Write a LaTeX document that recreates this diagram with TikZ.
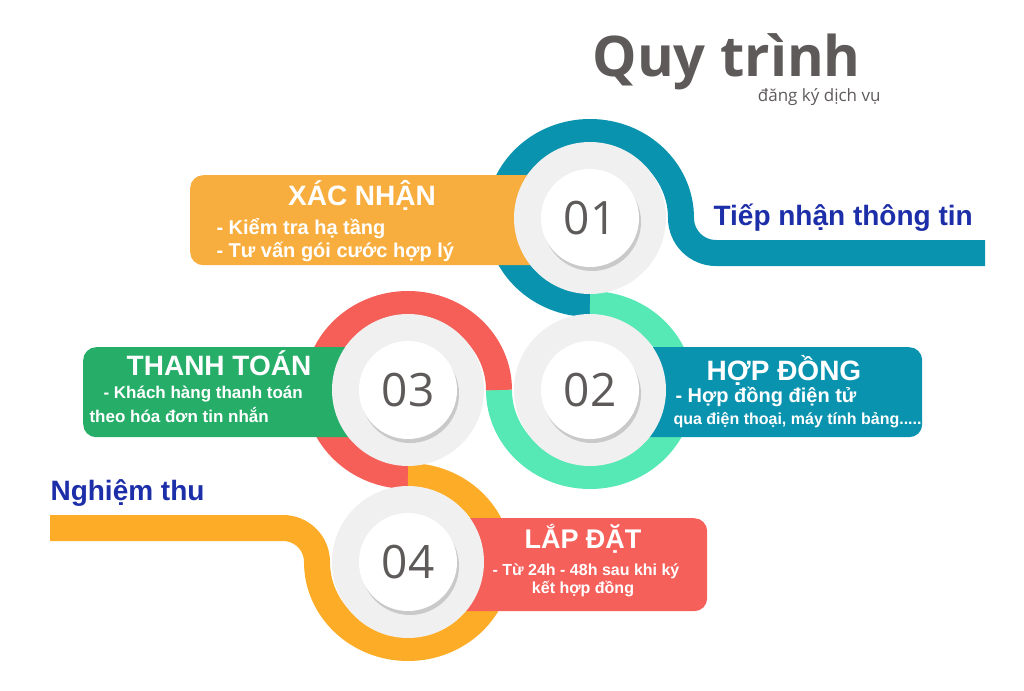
\documentclass[tikz,border=0pt]{standalone}
\usepackage{fontspec}
\setmainfont{Liberation Sans}
\newfontfamily\opensans{Open Sans}
\usetikzlibrary{positioning}

\definecolor{ringteal}{HTML}{0993AF}
\definecolor{ringmint}{HTML}{56E8B5}
\definecolor{ringred}{HTML}{F65F58}
\definecolor{ringorange}{HTML}{FCAC26}
\definecolor{boxorange}{HTML}{F8AE3F}
\definecolor{boxgreen}{HTML}{26AE69}
\definecolor{boxteal}{HTML}{0993AF}
\definecolor{boxred}{HTML}{F6605A}
\definecolor{stepblue}{HTML}{1D2EA9}
\definecolor{headgrey}{HTML}{5E5A5A}
\definecolor{discgrey}{HTML}{F0F0F0}

\begin{document}
\begin{tikzpicture}[x=1pt, y=-1pt,
  band/.style={line width=26pt},
  card/.style={rounded corners=13pt, anchor=north west, inner sep=0pt},
  cardtitle/.style={font=\bfseries\fontsize{28}{30}\selectfont, text=white, anchor=base},
  item/.style={font=\bfseries\fontsize{20}{22}\selectfont, text=white, anchor=base west},
  smallitem/.style={font=\bfseries\fontsize{16}{18}\selectfont, text=white, anchor=base west},
  disc/.style={circle, fill=discgrey, minimum size=152pt, inner sep=0pt},
  discshadow/.style={circle, fill=black, opacity=0.16, minimum size=98pt, inner sep=0pt},
  face/.style={circle, fill=white, minimum size=98pt, inner sep=0pt, font=\opensans\fontsize{46}{46}\selectfont, text=headgrey},
  steplabel/.style={font=\bfseries\fontsize{28}{30}\selectfont, text=stepblue, anchor=base west}]
\useasboundingbox (0,0) rectangle (1024,690);

% the snake band
\draw[band, ringteal] (985,253) -- (716,253) arc[start angle=90, end angle=180, radius=35]
  arc[start angle=0, end angle=-270, x radius=91, y radius=86];
\draw[band, ringmint] (590,304) arc[start angle=-90, end angle=180, x radius=91, y radius=86];
\draw[band, ringred] (499,390) arc[start angle=0, end angle=-270, x radius=91, y radius=86];
\draw[band, ringorange] (50,528) -- (283,528) arc[start angle=-90, end angle=0, radius=34]
  arc[start angle=180, end angle=-90, x radius=91, y radius=86];

% cards
\node[card, fill=boxorange, minimum width=355pt, minimum height=90pt] (xac) at (190,175) {};
\node[card, fill=boxgreen, minimum width=337pt, minimum height=90pt] (thanh) at (83,347) {};
\node[card, fill=boxteal, minimum width=342pt, minimum height=90pt] (hop) at (580,347) {};
\node[card, fill=boxred, minimum width=307pt, minimum height=93pt] (lap) at (400,518) {};

% discs
\node[disc] (disc01) at (590,218) {};
\node[disc] (disc02) at (590,390) {};
\node[disc] (disc03) at (408,390) {};
\node[disc] (disc04) at (408,562) {};
\node[discshadow] (shadow01) at (592,222) {};
\node[discshadow] (shadow02) at (592,394) {};
\node[discshadow] (shadow03) at (410,394) {};
\node[discshadow] (shadow04) at (410,566) {};
\node[face] (num01) at (590,218) {01};
\node[face] (num02) at (590,390) {02};
\node[face] (num03) at (408,390) {03};
\node[face] (num04) at (408,562) {04};

% card texts
\node[cardtitle] (xactitle) at (362,205) {XÁC NHẬN};
\node[item] (xac1) at (213,234) {- Kiểm tra hạ tầng};
\node[item] (xac2) at (213,257) {- Tư vấn gói cước hợp lý};
\node[cardtitle] (thanhtitle) at (219,375) {THANH TOÁN};
\node[item, font=\bfseries\fontsize{17}{19}\selectfont] (thanh1) at (100,398) {- Khách hàng thanh toán};
\node[item, font=\bfseries\fontsize{17}{19}\selectfont] (thanh2) at (86,422) {theo hóa đơn tin nhắn};
\node[cardtitle] (hoptitle) at (784,380) {HỢP ĐỒNG};
\node[item] (hop1) at (672,402) {- Hợp đồng điện tử};
\node[smallitem] (hop2) at (670,424) {qua điện thoại, máy tính bảng.....};
\node[cardtitle, font=\bfseries\fontsize{27}{29}\selectfont] (laptitle) at (583,548) {LẮP ĐẶT};
\node[smallitem, anchor=base] (lap1) at (586,575) {- Từ 24h - 48h sau khi ký};
\node[smallitem, anchor=base] (lap2) at (583,593) {kết hợp đồng};

% step labels and heading
\node[steplabel] (first) at (710,225) {Tiếp nhận thông tin};
\node[steplabel] (last) at (47,500) {Nghiệm thu};
\node[font=\opensans\bfseries\fontsize{56}{58}\selectfont, text=headgrey, anchor=base west] (head) at (589,77) {Quy trình};
\node[font=\opensans\fontsize{17}{19}\selectfont, text=headgrey, anchor=base east] (subhead) at (884,102) {đăng ký dịch vụ};
\end{tikzpicture}
\end{document}
